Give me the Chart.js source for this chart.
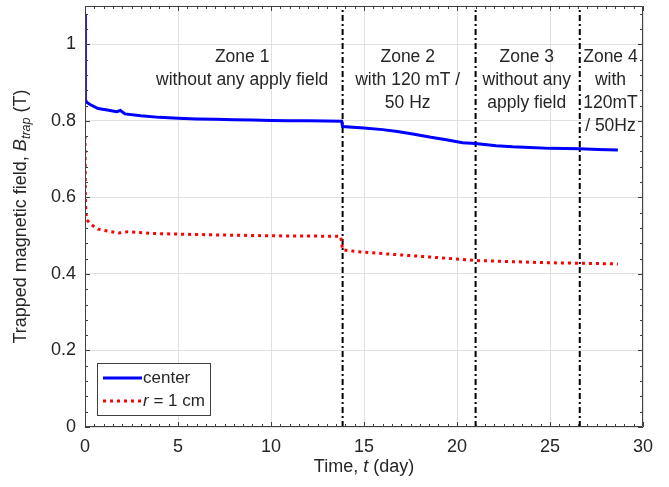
<!DOCTYPE html>
<html>
<head>
<meta charset="utf-8">
<script src="https://cdn.jsdelivr.net/npm/chart.js@4/dist/chart.umd.min.js"></script>
<style>
  html, body { margin: 0; padding: 0; background: #fff; }
  #wrap { width: 669px; height: 487px; }
</style>
</head>
<body>
<div id="wrap"><canvas id="chart" width="669" height="487"></canvas></div>
<script>
// trapped field at the center of the sample
var centerDays = [0, 0.02, 0.1, 0.3, 0.7, 1.2, 1.7, 1.9, 2.15, 3, 4, 5, 6, 7, 8, 9, 10, 11, 12, 13,
  13.8, 13.85, 15, 16, 16.8, 17.7, 18.6, 19.5, 20.3, 21, 22.1, 23, 23.9, 25, 26.6, 27.6, 28.65];
var centerField = [1.08, 0.855, 0.848, 0.842, 0.832, 0.828, 0.824, 0.827, 0.818, 0.813, 0.809, 0.807, 0.805, 0.804, 0.803, 0.802, 0.801, 0.8005, 0.8, 0.7995,
  0.799, 0.785, 0.781, 0.777, 0.772, 0.765, 0.757, 0.75, 0.743, 0.741, 0.735, 0.732, 0.73, 0.728, 0.727, 0.725, 0.724];

// trapped field at r = 1 cm
var edgeDays = [0, 0.02, 0.05, 0.1, 0.36, 0.7, 1.3, 1.8, 2.3, 3.5, 4.9, 7, 10, 12, 13.75,
  13.85, 14.6, 16, 18, 20, 21, 23, 25, 26.6, 28.65];
var edgeField = [0.76, 0.6, 0.559, 0.541, 0.528, 0.517, 0.511, 0.507, 0.51, 0.506, 0.504, 0.502, 0.4995, 0.499, 0.498,
  0.463, 0.4585, 0.453, 0.446, 0.439, 0.435, 0.432, 0.429, 0.428, 0.426];

// zone boundaries (day) and zone labels
var zoneBounds = [13.85, 21.0, 26.6];
var zoneCenters = [8.45, 17.35, 23.75, 28.25];
var zoneLabels = [
  ["Zone 1", "without any apply field"],
  ["Zone 2", "with 120 mT /", "50 Hz"],
  ["Zone 3", "without any", "apply field"],
  ["Zone 4", "with", "120mT", "/ 50Hz"]
];

var xTicks = [0, 5, 10, 15, 20, 25, 30];
var yTicks = [0, 0.2, 0.4, 0.6, 0.8, 1];
var seriesNames = ["center", "r = 1 cm"];

var FONT = '"Liberation Sans", Arial, Helvetica, sans-serif';
var TEXT = "#262626";

function pts(xs, ys) {
  return xs.map(function (v, i) { return { x: v, y: ys[i] }; });
}

var datasets = [
  {
    label: seriesNames[0],
    data: pts(centerDays, centerField),
    borderColor: "#0000ff",
    borderWidth: 3,
    pointRadius: 0,
    tension: 0,
  },
  {
    label: seriesNames[1],
    data: pts(edgeDays, edgeField),
    borderColor: "#ff0000",
    borderWidth: 3,
    borderDash: [3, 4],
    pointRadius: 0,
    tension: 0,
  },
];

zoneBounds.forEach(function (b) {
  datasets.push({
    label: "boundary",
    data: [{ x: b, y: 0 }, { x: b, y: 1.1 }],
    borderColor: "#000000",
    borderWidth: 2,
    borderDash: [6, 3, 2, 3],
    pointRadius: 0,
  });
});

// draw text made of pieces with different styles, centered on 0
function richText(ctx, parts, size) {
  var total = 0;
  parts.forEach(function (p) {
    ctx.font = (p.italic ? "italic " : "") + (p.sub ? size * 0.7 : size) + "px " + FONT;
    p.w = ctx.measureText(p.t).width;
    total += p.w;
  });
  var cx = -total / 2;
  parts.forEach(function (p) {
    ctx.font = (p.italic ? "italic " : "") + (p.sub ? size * 0.7 : size) + "px " + FONT;
    ctx.fillText(p.t, cx, p.sub ? size * 0.3 : 0);
    cx += p.w;
  });
}

var decor = {
  id: "decor",
  afterDraw: function (chart) {
    var ctx = chart.ctx;
    var a = chart.chartArea;
    var x = chart.scales.x;
    var y = chart.scales.y;
    ctx.save();

    // axis box with inward ticks
    ctx.strokeStyle = "#404040";
    ctx.lineWidth = 1;
    ctx.beginPath();
    ctx.rect(a.left + 0.5, a.top + 0.5, a.right - a.left - 1, a.bottom - a.top - 1);
    for (var i = 0; i <= 60; i++) {
      var px = Math.round(x.getPixelForValue(i * 0.5)) + 0.5;
      var len = i % 10 === 0 ? 5 : 3;
      ctx.moveTo(px, a.bottom); ctx.lineTo(px, a.bottom - len);
      ctx.moveTo(px, a.top); ctx.lineTo(px, a.top + len);
    }
    for (var j = 0; j <= 27; j++) {
      var py = Math.round(y.getPixelForValue(j * 0.04)) + 0.5;
      var l2 = j % 5 === 0 ? 5 : 3;
      ctx.moveTo(a.left, py); ctx.lineTo(a.left + l2, py);
      ctx.moveTo(a.right, py); ctx.lineTo(a.right - l2, py);
    }
    ctx.stroke();

    // zone annotations
    ctx.fillStyle = TEXT;
    ctx.textAlign = "center";
    ctx.textBaseline = "middle";
    ctx.font = "17.5px " + FONT;
    zoneLabels.forEach(function (lines, k) {
      var cx = x.getPixelForValue(zoneCenters[k]);
      var top = y.getPixelForValue(0.965);
      lines.forEach(function (s, n) {
        ctx.fillText(s, cx, top + n * 22.7);
      });
    });

    // x axis title
    ctx.textAlign = "left";
    ctx.textBaseline = "middle";
    ctx.save();
    ctx.translate((a.left + a.right) / 2, 467);
    richText(ctx, [{ t: "Time, " }, { t: "t", italic: true }, { t: " (day)" }], 18);
    ctx.restore();

    // y axis title
    ctx.save();
    ctx.translate(21, (a.top + a.bottom) / 2);
    ctx.rotate(-Math.PI / 2);
    richText(ctx, [
      { t: "Trapped magnetic field, " },
      { t: "B", italic: true },
      { t: "trap", italic: true, sub: true },
      { t: " (T)" },
    ], 18);
    ctx.restore();

    // legend
    var lx = a.left + 12, ly = a.bottom - 64, lw = 113, lh = 52;
    ctx.fillStyle = "#ffffff";
    ctx.fillRect(lx, ly, lw, lh);
    ctx.strokeStyle = "#404040";
    ctx.lineWidth = 1;
    ctx.strokeRect(lx + 0.5, ly + 0.5, lw, lh);
    [0, 1].forEach(function (k) {
      var ds = chart.data.datasets[k];
      var ry = ly + 15 + k * 23;
      ctx.strokeStyle = ds.borderColor;
      ctx.lineWidth = 3;
      ctx.setLineDash(ds.borderDash || []);
      ctx.beginPath();
      ctx.moveTo(lx + 6, ry);
      ctx.lineTo(lx + 45, ry);
      ctx.stroke();
      ctx.setLineDash([]);
      ctx.fillStyle = TEXT;
      ctx.textBaseline = "middle";
      ctx.textAlign = "left";
      if (k === 0) {
        ctx.font = "17px " + FONT;
        ctx.fillText(seriesNames[0], lx + 46, ry);
      } else {
        ctx.font = "italic 17px " + FONT;
        ctx.fillText("r", lx + 46, ry);
        var w = ctx.measureText("r").width;
        ctx.font = "17px " + FONT;
        ctx.fillText(seriesNames[1].slice(1), lx + 46 + w, ry);
      }
    });

    ctx.restore();
  },
};

new Chart(document.getElementById("chart").getContext("2d"), {
  type: "line",
  data: { datasets: datasets },
  options: {
    responsive: false,
    animation: false,
    layout: { padding: { top: 6, right: 26, left: 0, bottom: 0 } },
    plugins: { legend: { display: false }, tooltip: { enabled: false } },
    scales: {
      x: {
        type: "linear",
        min: 0,
        max: 30,
        afterFit: function (s) {
          s.height = 60;
          s.paddingLeft = 0;
          s.paddingRight = 0;
        },
        afterBuildTicks: function (s) {
          s.ticks = xTicks.map(function (v) { return { value: v }; });
        },
        ticks: {
          color: TEXT,
          padding: 9,
          maxRotation: 0,
          font: { family: FONT, size: 18 },
          callback: function (v) { return String(v); },
        },
        grid: { color: "#e0e0e0", drawTicks: false },
        border: { display: false },
      },
      y: {
        type: "linear",
        min: 0,
        max: 1.1,
        afterFit: function (s) {
          s.width = 85;
          s.paddingTop = 0;
          s.paddingBottom = 0;
        },
        afterBuildTicks: function (s) {
          s.ticks = yTicks.map(function (v) { return { value: v }; });
        },
        ticks: {
          color: TEXT,
          padding: 9,
          font: { family: FONT, size: 18 },
          callback: function (v) { return String(Math.round(v * 10) / 10); },
        },
        grid: { color: "#e0e0e0", drawTicks: false },
        border: { display: false },
      },
    },
  },
  plugins: [decor],
});
</script>
</body>
</html>
